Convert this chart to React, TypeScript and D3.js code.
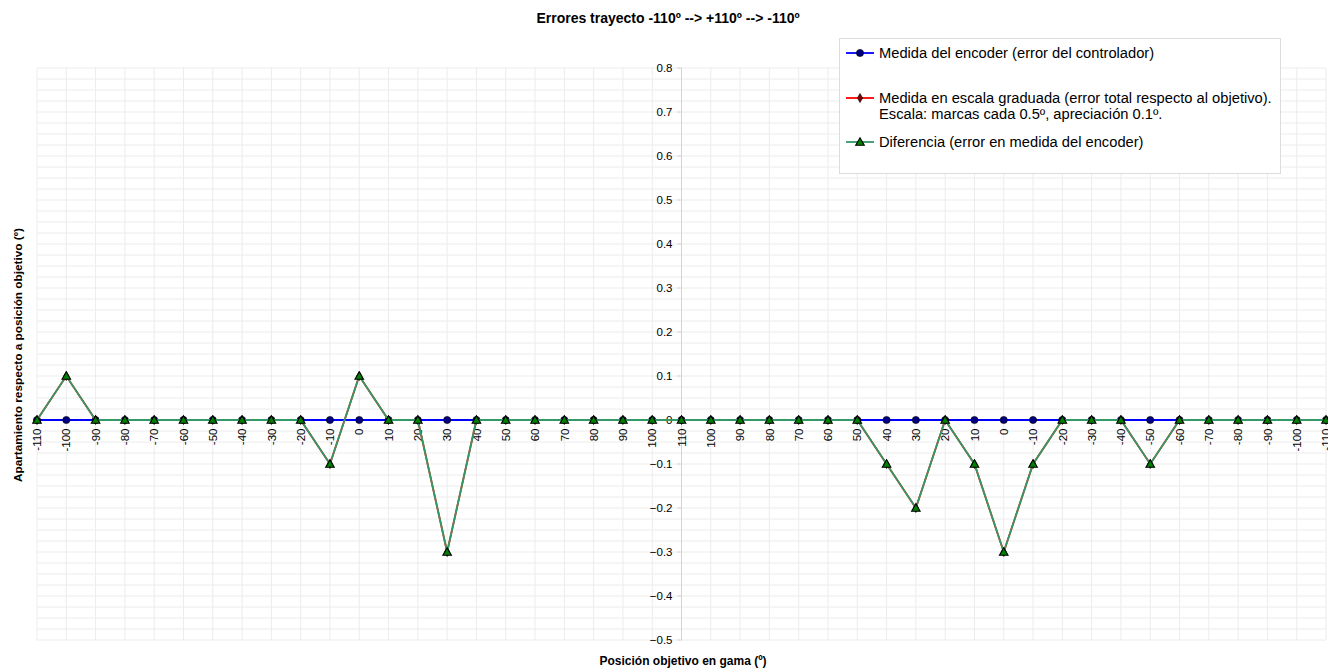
import * as d3 from "d3"

// categorías del eje x: ida -110 -> +110 y vuelta +110 -> -110
const positions = [
  -110, -100, -90, -80, -70, -60, -50, -40, -30, -20, -10, 0, 10, 20, 30, 40, 50, 60, 70, 80, 90, 100,
  110, 100, 90, 80, 70, 60, 50, 40, 30, 20, 10, 0, -10, -20, -30, -40, -50, -60, -70, -80, -90, -100, -110,
]

const encoder = positions.map(() => 0)

const escala = [
  0, 0.1, 0, 0, 0, 0, 0, 0, 0, 0, -0.1, 0.1, 0, 0, -0.3, 0, 0, 0, 0, 0, 0, 0,
  0, 0, 0, 0, 0, 0, 0, -0.1, -0.2, 0, -0.1, -0.3, -0.1, 0, 0, 0, -0.1, 0, 0, 0, 0, 0, 0,
]

const diferencia = [
  0, 0.1, 0, 0, 0, 0, 0, 0, 0, 0, -0.1, 0.1, 0, 0, -0.3, 0, 0, 0, 0, 0, 0, 0,
  0, 0, 0, 0, 0, 0, 0, -0.1, -0.2, 0, -0.1, -0.3, -0.1, 0, 0, 0, -0.1, 0, 0, 0, 0, 0, 0,
]

const yTicks = [-0.5, -0.4, -0.3, -0.2, -0.1, 0, 0.1, 0.2, 0.3, 0.4, 0.5, 0.6, 0.7, 0.8]

const title = "Errores trayecto -110º --> +110º --> -110º"
const xTitle = "Posición objetivo en gama (º)"
const yTitle = "Apartamiento respecto a posición objetivo (º)"

const FONT = "'Liberation Sans', Arial, sans-serif"

export default function App() {
  const width = 1328
  const height = 668
  const plot = {left: 37, right: 1326, top: 68, bottom: 640}

  const x = d3
    .scalePoint<number>()
    .domain(d3.range(positions.length))
    .range([plot.left, plot.right])
  const y = d3.scaleLinear().domain([-0.5, 0.8]).range([plot.bottom, plot.top])

  const line = d3
    .line<number>()
    .x((_, i) => x(i)!)
    .y((d) => y(d))

  const minor = d3.range(-0.5, 0.8001, 0.025)
  const axisX = x(22)!
  const zeroY = y(0)

  const tri = d3.symbol(d3.symbolTriangle, 32)()!
  const dia = d3.symbol(d3.symbolDiamond, 24)()!

  const legendItems = [
    {y: 53, color: "#0000ff", marker: "circle", lines: ["Medida del encoder (error del controlador)"]},
    {
      y: 98,
      color: "#ff0000",
      marker: "diamond",
      lines: [
        "Medida en escala graduada (error total respecto al objetivo).",
        "Escala: marcas cada 0.5º, apreciación 0.1º.",
      ],
    },
    {y: 142, color: "#339966", marker: "triangle", lines: ["Diferencia (error en medida del encoder)"]},
  ]

  const drawMarker = (kind: string, cx: number, cy: number, key?: any) => {
    if (kind === "circle")
      return <circle key={key} cx={cx} cy={cy} r={3.6} fill="#000080" stroke="#000000" strokeWidth={0.6} />
    if (kind === "diamond")
      return (
        <path key={key} d={dia} transform={`translate(${cx},${cy})`} fill="#800000" stroke="#000" strokeWidth={0.6} />
      )
    return (
      <path key={key} d={tri} transform={`translate(${cx},${cy + 0.8})`} fill="#008000" stroke="#000" strokeWidth={1.1} />
    )
  }

  return (
    <svg
      width={width}
      height={height}
      style={{position: "absolute", left: 0, top: 0, background: "#fff"}}
      fontFamily={FONT}
    >
      {/* rejilla */}
      <g stroke="#ececec" strokeWidth={1}>
        {minor.map((v, i) => (
          <line key={"h" + i} x1={plot.left} x2={plot.right} y1={y(v)} y2={y(v)} />
        ))}
        {positions.map((_, i) => (
          <line key={"v" + i} x1={x(i)} x2={x(i)} y1={plot.top} y2={plot.bottom} />
        ))}
      </g>

      {/* eje y */}
      <line x1={axisX} x2={axisX} y1={plot.top} y2={plot.bottom} stroke="#d4d4d4" />
      {yTicks.map((t) => (
        <g key={t}>
          <line x1={axisX - 4} x2={axisX} y1={y(t)} y2={y(t)} stroke="#d4d4d4" />
          <text x={axisX - 9} y={y(t)} dy="0.35em" textAnchor="end" fontSize={11.5} fill="#000">
            {t === 0 ? "0" : d3.format(".1f")(t)}
          </text>
        </g>
      ))}

      {/* eje x */}
      <line x1={plot.left} x2={plot.right} y1={zeroY} y2={zeroY} stroke="#d4d4d4" />
      {positions.map((p, i) => (
        <text
          key={"xt" + i}
          transform={`translate(${x(i)! + 4.2},${zeroY + 8.5}) rotate(-90)`}
          textAnchor="end"
          fontSize={11.5}
          fill="#000"
        >
          {p}
        </text>
      ))}

      {/* series */}
      <path d={line(encoder)!} fill="none" stroke="#0000ff" strokeWidth={1.8} />
      {encoder.map((v, i) => drawMarker("circle", x(i)!, y(v), "e" + i))}
      <path d={line(escala)!} fill="none" stroke="#ff0000" strokeWidth={1.8} />
      {escala.map((v, i) => drawMarker("diamond", x(i)!, y(v), "s" + i))}
      <path d={line(diferencia)!} fill="none" stroke="#339966" strokeWidth={1.8} />
      {diferencia.map((v, i) => drawMarker("triangle", x(i)!, y(v), "d" + i))}

      {/* leyenda */}
      <rect x={839.5} y={38.5} width={441} height={135} fill="#fff" stroke="#dcdcdc" />
      {legendItems.map((it) => (
        <g key={it.y}>
          <line x1={846} x2={874} y1={it.y} y2={it.y} stroke={it.color} strokeWidth={1.8} />
          {drawMarker(it.marker, 860, it.y)}
          {it.lines.map((l, j) => (
            <text key={j} x={879} y={it.y + j * 16} dy="0.35em" fontSize={14.7} fill="#000">
              {l}
            </text>
          ))}
        </g>
      ))}

      {/* títulos */}
      <text x={668} y={18} dy="0.35em" textAnchor="middle" fontSize={14} fontWeight="bold">
        {title}
      </text>
      <text x={683} y={661} dy="0.35em" textAnchor="middle" fontSize={12} fontWeight="bold">
        {xTitle}
      </text>
      <text
        transform={`translate(18,355) rotate(-90)`}
        dy="0.35em"
        textAnchor="middle"
        fontSize={11.8}
        fontWeight="bold"
      >
        {yTitle}
      </text>
    </svg>
  )
}
